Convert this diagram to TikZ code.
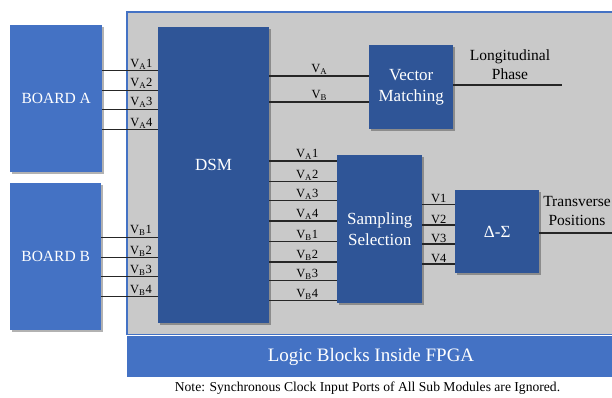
\documentclass[tikz,border=0pt]{standalone}
\usepackage{fontspec}
\setmainfont{Liberation Serif}
\usetikzlibrary{shadows}
\definecolor{lblue}{HTML}{4472C4}
\definecolor{dblue}{HTML}{2F5597}
\definecolor{fgray}{HTML}{C9C9C9}
\begin{document}
\begin{tikzpicture}[x=1pt,y=-1pt,
  shad/.style={drop shadow={shadow xshift=1.6pt,shadow yshift=-1.6pt,fill=black,opacity=0.3}},
  board/.style={shad,fill=lblue,draw=none,anchor=north west,text=white,font=\fontsize{15.5}{18}\selectfont,inner sep=0pt},
  blk/.style={shad,fill=dblue,draw=none,anchor=north west,text=white,font=\fontsize{17}{21}\selectfont,align=center,inner sep=0pt},
  wire/.style={line width=1.2pt,black!85},
  lab/.style={anchor=south,inner sep=1pt,font=\fontsize{12.5}{14}\selectfont,text=black},
  txt/.style={font=\fontsize{15.5}{19}\selectfont,align=center,text=black,inner sep=0pt}]
\useasboundingbox (0,0) rectangle (612,397);
% FPGA area
\fill[fgray] (127,12) rectangle (613,334.5);
\draw[lblue,line width=1.6pt] (613,12) -- (127,12) -- (127,334.5) -- (613,334.5);
\fill[lblue] (127,336.3) rectangle (613,376.5);
\node[font=\fontsize{19}{22}\selectfont,text=white] (fpga) at (371,356.5) {Logic Blocks Inside FPGA};
\node[font=\fontsize{13.6}{16}\selectfont] (note) at (367.5,388) {Note: Synchronous Clock Input Ports of All Sub Modules are Ignored.};
% boxes
\node[board,minimum width=92pt,minimum height=147pt] (boardA) at (10,25) {BOARD A};
\node[board,minimum width=91pt,minimum height=147pt] (boardB) at (10,183) {BOARD B};
\node[blk,minimum width=111pt,minimum height=296pt] (dsm) at (158,27) {};
\node[text=white,font=\fontsize{17}{20}\selectfont] (dsmlab) at (213.5,165) {DSM};
\node[blk,minimum width=84pt,minimum height=84pt] (vm) at (369,45) {Vector\\Matching};
\node[blk,minimum width=85pt,minimum height=148pt] (ss) at (337,155) {Sampling\\Selection};
\node[blk,minimum width=84pt,minimum height=83pt] (ds) at (455,190) {Δ-Σ};
% board A -> DSM
\foreach \y/\n in {70.7/1,90.3/2,109.3/3,129.7/4}
  \draw[wire] (boardA.east |- 0,\y) -- node[lab,pos=0.7]{V\textsubscript{A}\n} (dsm.west |- 0,\y);
% board B -> DSM
\foreach \y/\n in {237.3/1,257.7/2,276.7/3,296.7/4}
  \draw[wire] (boardB.east |- 0,\y) -- node[lab,pos=0.7]{V\textsubscript{B}\n} (dsm.west |- 0,\y);
% DSM -> VM
\draw[wire] (dsm.east |- 0,76) -- node[lab]{V\textsubscript{A}} (vm.west |- 0,76);
\draw[wire] (dsm.east |- 0,102) -- node[lab]{V\textsubscript{B}} (vm.west |- 0,102);
% VM output
\coordinate (lp) at (562,85);
\draw[wire] (vm.east |- lp) -- (lp);
\node[txt] (lptext) at (510,64.5) {Longitudinal\\Phase};
% DSM -> SS
\foreach \y/\s/\n in {161/A/1,181.7/A/2,200.7/A/3,221/A/4,241.7/B/1,262/B/2,280.7/B/3,300.7/B/4}
  \draw[wire] (dsm.east |- 0,\y) -- node[lab,pos=0.56]{V\textsubscript{\s}\n} (ss.west |- 0,\y);
% SS -> DS
\foreach \y/\n in {204.3/1,225/2,244/3,264/4}
  \draw[wire] (ss.east |- 0,\y) -- node[lab]{V\n} (ds.west |- 0,\y);
% DS output
\coordinate (tp) at (613,233);
\draw[wire] (ds.east |- tp) -- (tp);
\node[txt] (tptext) at (577,211) {Transverse\\Positions};
\end{tikzpicture}
\end{document}
